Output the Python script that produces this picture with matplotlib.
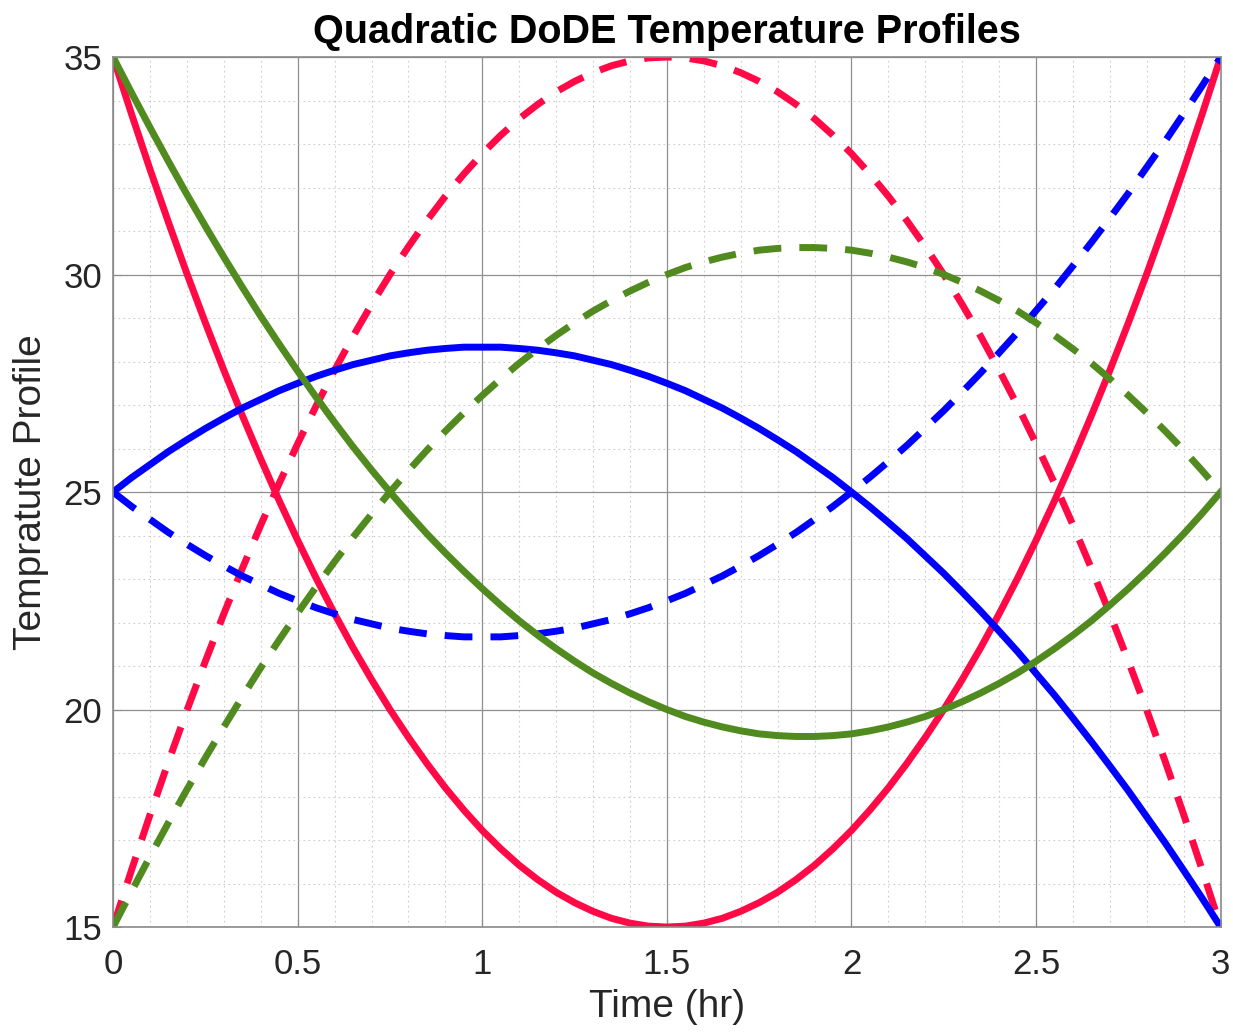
import numpy as np
import matplotlib.pyplot as plt
from matplotlib.ticker import MultipleLocator

plt.rcParams['font.family'] = ['Liberation Sans', 'DejaVu Sans']

# time samples (hr), every 0.05
t = np.linspace(0, 3, 61)

# temperature profiles
red_solid = [35.00, 33.69, 32.42, 31.20, 30.02, 28.89, 27.80, 26.76, 25.76, 24.80, 23.89,
             23.02, 22.20, 21.42, 20.69, 20.00, 19.36, 18.76, 18.20, 17.69, 17.22,
             16.80, 16.42, 16.09, 15.80, 15.56, 15.36, 15.20, 15.09, 15.02, 15.00,
             15.02, 15.09, 15.20, 15.36, 15.56, 15.80, 16.09, 16.42, 16.80, 17.22,
             17.69, 18.20, 18.76, 19.36, 20.00, 20.69, 21.42, 22.20, 23.02, 23.89,
             24.80, 25.76, 26.76, 27.80, 28.89, 30.02, 31.20, 32.42, 33.69, 35.00]
red_dash = [15.00, 16.31, 17.58, 18.80, 19.98, 21.11, 22.20, 23.24, 24.24, 25.20, 26.11,
            26.98, 27.80, 28.58, 29.31, 30.00, 30.64, 31.24, 31.80, 32.31, 32.78,
            33.20, 33.58, 33.91, 34.20, 34.44, 34.64, 34.80, 34.91, 34.98, 35.00,
            34.98, 34.91, 34.80, 34.64, 34.44, 34.20, 33.91, 33.58, 33.20, 32.78,
            32.31, 31.80, 31.24, 30.64, 30.00, 29.31, 28.58, 27.80, 26.98, 26.11,
            25.20, 24.24, 23.24, 22.20, 21.11, 19.98, 18.80, 17.58, 16.31, 15.00]
blue_solid = [25.00, 25.33, 25.63, 25.93, 26.20, 26.46, 26.70, 26.93, 27.13, 27.33, 27.50,
              27.66, 27.80, 27.93, 28.03, 28.13, 28.20, 28.26, 28.30, 28.33, 28.33,
              28.33, 28.30, 28.26, 28.20, 28.13, 28.03, 27.93, 27.80, 27.66, 27.50,
              27.33, 27.13, 26.93, 26.70, 26.46, 26.20, 25.93, 25.63, 25.33, 25.00,
              24.66, 24.30, 23.93, 23.53, 23.13, 22.70, 22.26, 21.80, 21.33, 20.83,
              20.33, 19.80, 19.26, 18.70, 18.13, 17.53, 16.93, 16.30, 15.66, 15.00]
blue_dash = [25.00, 24.67, 24.37, 24.07, 23.80, 23.54, 23.30, 23.07, 22.87, 22.67, 22.50,
             22.34, 22.20, 22.07, 21.97, 21.87, 21.80, 21.74, 21.70, 21.67, 21.67,
             21.67, 21.70, 21.74, 21.80, 21.87, 21.97, 22.07, 22.20, 22.34, 22.50,
             22.67, 22.87, 23.07, 23.30, 23.54, 23.80, 24.07, 24.37, 24.67, 25.00,
             25.34, 25.70, 26.07, 26.47, 26.87, 27.30, 27.74, 28.20, 28.67, 29.17,
             29.67, 30.20, 30.74, 31.30, 31.87, 32.47, 33.07, 33.70, 34.34, 35.00]
green_solid = [35.00, 34.18, 33.38, 32.60, 31.84, 31.11, 30.40, 29.71, 29.04, 28.40, 27.78,
               27.18, 26.60, 26.04, 25.51, 25.00, 24.51, 24.04, 23.60, 23.18, 22.78,
               22.40, 22.04, 21.71, 21.40, 21.11, 20.84, 20.60, 20.38, 20.18, 20.00,
               19.84, 19.71, 19.60, 19.51, 19.44, 19.40, 19.38, 19.38, 19.40, 19.44,
               19.51, 19.60, 19.71, 19.84, 20.00, 20.18, 20.38, 20.60, 20.84, 21.11,
               21.40, 21.71, 22.04, 22.40, 22.78, 23.18, 23.60, 24.04, 24.51, 25.00]
green_dash = [15.00, 15.82, 16.62, 17.40, 18.16, 18.89, 19.60, 20.29, 20.96, 21.60, 22.22,
              22.82, 23.40, 23.96, 24.49, 25.00, 25.49, 25.96, 26.40, 26.82, 27.22,
              27.60, 27.96, 28.29, 28.60, 28.89, 29.16, 29.40, 29.62, 29.82, 30.00,
              30.16, 30.29, 30.40, 30.49, 30.56, 30.60, 30.62, 30.62, 30.60, 30.56,
              30.49, 30.40, 30.29, 30.16, 30.00, 29.82, 29.62, 29.40, 29.16, 28.89,
              28.60, 28.29, 27.96, 27.60, 27.22, 26.82, 26.40, 25.96, 25.49, 25.00]

red = '#FF0A46'
blue = '#0000FF'
green = '#518A1F'

fig = plt.figure(figsize=(12.33, 10.33), dpi=100)
ax = fig.add_axes([0.0917, 0.1026, 0.8983, 0.8422])

lw = 5
dash = (4, 2.6)
ax.plot(t, red_solid, color=red, lw=lw)
ax.plot(t, red_dash, color=red, lw=lw, dashes=dash, dash_capstyle='butt')
ax.plot(t, blue_solid, color=blue, lw=lw)
ax.plot(t, blue_dash, color=blue, lw=lw, dashes=dash, dash_capstyle='butt')
ax.plot(t, green_solid, color=green, lw=lw)
ax.plot(t, green_dash, color=green, lw=lw, dashes=dash, dash_capstyle='butt')

ax.set_xlim(0, 3)
ax.set_ylim(15, 35)
ax.xaxis.set_minor_locator(MultipleLocator(0.1))
ax.yaxis.set_minor_locator(MultipleLocator(1))
ax.set_xticks([0, 0.5, 1, 1.5, 2, 2.5, 3], ['0', '0.5', '1', '1.5', '2', '2.5', '3'])
ax.set_yticks([15, 20, 25, 30, 35])

ax.grid(which='major', color='#8f8f8f', lw=0.9)
ax.grid(which='minor', color='#cccccc', lw=0.8, ls=(0, (1.5, 3)))
ax.set_axisbelow(True)

for s in ax.spines.values():
    s.set_color('#8a8a8a')
    s.set_linewidth(1.2)
ax.tick_params(which='both', direction='in', colors='#8a8a8a', labelcolor='#262626', labelsize=25)
ax.tick_params(which='major', length=6)
ax.tick_params(which='minor', length=0)
ax.tick_params(axis='x', pad=15)
ax.tick_params(axis='y', pad=8)

ax.set_title('Quadratic DoDE Temperature Profiles', fontsize=28.5, fontweight='bold', pad=10)
ax.set_xlabel('Time (hr)', fontsize=28, color='#262626', labelpad=6)
ax.set_ylabel('Tempratute Profile', fontsize=28, color='#262626', labelpad=10)

fig.savefig('out.png', dpi=100)
